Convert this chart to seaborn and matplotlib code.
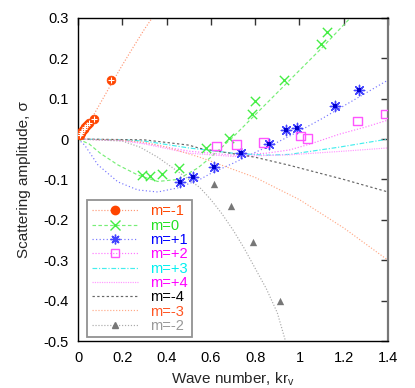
import matplotlib
matplotlib.use("Agg")
import matplotlib.pyplot as plt
from matplotlib.lines import Line2D
import numpy as np
import pandas as pd
import seaborn as sns

# curves
M_NEG1_X = [0.0, 0.05, 0.1, 0.15, 0.2, 0.25, 0.3, 0.335]
M_NEG1_Y = [0.0, 0.04, 0.088, 0.136, 0.183, 0.228, 0.272, 0.3]

M0_X = [0.0, 0.05, 0.1, 0.18, 0.27, 0.36, 0.45, 0.54, 0.6, 0.7, 0.8, 0.9, 1.0, 1.1, 1.23]
M0_Y = [0.0, -0.012, -0.035, -0.064, -0.089, -0.105, -0.1, -0.072, -0.045, 0.005, 0.06, 0.115, 0.17, 0.225, 0.3]

M1_X = [0.0, 0.03, 0.09, 0.18, 0.27, 0.36, 0.45, 0.55, 0.6, 0.7, 0.8, 0.9, 1.0, 1.1, 1.2, 1.3, 1.4]
M1_Y = [0.0, -0.015, -0.064, -0.106, -0.126, -0.131, -0.121, -0.1, -0.085, -0.06, -0.033, -0.008, 0.02, 0.05, 0.082, 0.114, 0.146]

M2_X = [0.0, 0.2, 0.3, 0.5, 0.7, 0.85, 0.955, 1.05, 1.18, 1.3, 1.4]
M2_Y = [0.0, -0.003, -0.01, -0.03, -0.04, -0.035, -0.027, -0.012, 0.012, 0.03, 0.047]

M3_X = [0.0, 0.2, 0.3, 0.5, 0.7, 0.85, 0.955, 1.18, 1.4]
M3_Y = [0.0, -0.002, -0.005, -0.022, -0.035, -0.04, -0.038, -0.02, 0.0]

M4_X = [0.0, 0.2, 0.3, 0.5, 0.7, 0.955, 1.2, 1.4]
M4_Y = [0.0, -0.004, -0.012, -0.035, -0.043, -0.039, -0.03, -0.022]

M_NEG4_X = [0.0, 0.3, 0.5, 0.55, 0.8, 0.955, 1.2, 1.4]
M_NEG4_Y = [0.0, -0.002, -0.015, -0.023, -0.045, -0.065, -0.1, -0.131]

M_NEG3_X = [0.0, 0.2, 0.3, 0.4, 0.55, 0.8, 1.0, 1.2, 1.4]
M_NEG3_Y = [0.0, -0.003, -0.008, -0.02, -0.045, -0.095, -0.15, -0.22, -0.3]

M_NEG2_X = [0.0, 0.2, 0.28, 0.36, 0.45, 0.55, 0.6, 0.65, 0.7, 0.75, 0.8, 0.85, 0.9, 0.937]
M_NEG2_Y = [0.0, -0.005, -0.02, -0.045, -0.08, -0.12, -0.15, -0.185, -0.225, -0.27, -0.32, -0.37, -0.43, -0.5]

# measured points
P_NEG1_X = [0.01, 0.015, 0.02, 0.025, 0.03, 0.04, 0.05, 0.072, 0.15]
P_NEG1_Y = [0.01, 0.015, 0.02, 0.025, 0.03, 0.035, 0.04, 0.05, 0.145]

P0_X = [0.288, 0.324, 0.378, 0.455, 0.577, 0.68, 0.784, 0.80, 0.928, 1.099, 1.126]
P0_Y = [-0.089, -0.092, -0.087, -0.072, -0.022, 0.003, 0.062, 0.094, 0.146, 0.235, 0.265]

P1_X = [0.459, 0.52, 0.613, 0.738, 0.862, 0.937, 0.988, 1.161, 1.27]
P1_Y = [-0.106, -0.094, -0.07, -0.035, -0.012, 0.022, 0.027, 0.082, 0.121]

P2_X = [0.626, 0.716, 0.838, 1.004, 1.036, 1.261, 1.387]
P2_Y = [-0.017, -0.013, -0.008, 0.008, 0.002, 0.045, 0.062]

P_NEG2_X = [0.613, 0.689, 0.788, 0.913]
P_NEG2_Y = [-0.112, -0.166, -0.255, -0.401]

LABELS = ["m=-1", "m=0", "m=+1", "m=+2", "m=+3", "m=+4", "m=-4", "m=-3", "m=-2"]
TEXT_COLORS = ["#ff4500", "#22e022", "#0000ff", "#ff00ff", "#00f0f0", "#ff00ff", "#000000", "#ff5522", "#999999"]
LINE_COLORS = ["#ff9977", "#77ee77", "#7777ff", "#ff77ff", "#44eeee", "#ff99ff", "#666666", "#ffaa88", "#aaaaaa"]
LINE_STYLES = [(0, (1, 1.5)), (0, (3, 2)), (0, (1, 2)), (0, (1, 1.5)), (0, (4, 1.5, 1, 1.5)),
               (0, (1, 1)), (0, (2, 2)), (0, (1, 1.5)), (0, (1, 1.5))]

XTICKS = [0, 0.2, 0.4, 0.6, 0.8, 1.0, 1.2, 1.4]
XTICK_LABELS = ["0", "0.2", "0.4", "0.6", "0.8", "1", "1.2", "1.4"]
YTICKS = [0.3, 0.2, 0.1, 0.0, -0.1, -0.2, -0.3, -0.4, -0.5]
YTICK_LABELS = ["0.3", "0.2", "0.1", "0", "-0.1", "-0.2", "-0.3", "-0.4", "-0.5"]

sns.set_theme(style="white")
plt.rcParams["font.family"] = ["Liberation Sans", "DejaVu Sans"]
plt.rcParams["mathtext.fontset"] = "custom"
plt.rcParams["mathtext.rm"] = "Liberation Sans"
plt.rcParams["axes.unicode_minus"] = False

fig = plt.figure(figsize=(4.15, 3.88), dpi=100)
ax = fig.add_axes([0.188, 0.121, 0.747, 0.833])

curves = [
    (M_NEG1_X, M_NEG1_Y), (M0_X, M0_Y), (M1_X, M1_Y), (M2_X, M2_Y), (M3_X, M3_Y),
    (M4_X, M4_Y), (M_NEG4_X, M_NEG4_Y), (M_NEG3_X, M_NEG3_Y), (M_NEG2_X, M_NEG2_Y),
]
for (cx, cy), col, ls in zip(curves, LINE_COLORS, LINE_STYLES):
    sns.lineplot(x=cx, y=cy, ax=ax, color=col, linestyle=ls, linewidth=0.85, sort=False, estimator=None)

# markers
sns.scatterplot(x=P_NEG1_X, y=P_NEG1_Y, ax=ax, marker="o", s=40, color="#ff4500",
                edgecolor="#ff4500", linewidth=0.5, zorder=5)
sns.scatterplot(x=P_NEG1_X, y=P_NEG1_Y, ax=ax, marker="+", s=18, color="white", linewidth=0.8, zorder=6)
sns.scatterplot(x=P0_X, y=P0_Y, ax=ax, marker="x", s=45, color="#44ee44", linewidth=1.0, zorder=5)
sns.scatterplot(x=P1_X, y=P1_Y, ax=ax, marker=(8, 2, 0), s=55, color="#4444ff", linewidth=1.0, zorder=5)
sns.scatterplot(x=P1_X, y=P1_Y, ax=ax, marker="s", s=5, color="#0000cc", linewidth=0, zorder=6)
sns.scatterplot(x=P2_X, y=P2_Y, ax=ax, marker="s", s=38, facecolor="none", edgecolor="#ff55ff",
                linewidth=1.0, zorder=5)
sns.scatterplot(x=P_NEG2_X, y=P_NEG2_Y, ax=ax, marker="^", s=28, color="#777777", linewidth=0, zorder=5)

ax.set_xlim(0, 1.4)
ax.set_ylim(-0.5, 0.3)
ax.set_xticks(XTICKS)
ax.set_xticklabels(XTICK_LABELS)
ax.set_yticks(YTICKS)
ax.set_yticklabels(YTICK_LABELS)
ax.tick_params(direction="in", top=True, right=True, length=5, width=1, labelsize=10.5,
               colors="#333333", labelcolor="black", pad=7)
for side in ["left", "bottom", "top"]:
    ax.spines[side].set_color("black")
    ax.spines[side].set_linewidth(1.0)
ax.spines["right"].set_color("#777777")
ax.spines["right"].set_linewidth(1.6)
ax.set_xlabel("Wave number, kr$_\\mathrm{v}$", fontsize=11, labelpad=4)
ax.set_ylabel("Scattering amplitude, σ", fontsize=11, labelpad=9)

# legend handles
markers = [
    dict(marker="o", markersize=6, markerfacecolor="#ff4500", markeredgecolor="#ff4500"),
    dict(marker="x", markersize=7, markeredgecolor="#44ee44"),
    dict(marker=(8, 2, 0), markersize=7, markeredgecolor="#4444ff"),
    dict(marker="s", markersize=6, markerfacecolor="none", markeredgecolor="#ff55ff"),
    {}, {}, {},
    {},
    dict(marker="^", markersize=5, markerfacecolor="#777777", markeredgecolor="#777777"),
]
handles = []
for col, ls, mk in zip(LINE_COLORS, LINE_STYLES, markers):
    handles.append(Line2D([0], [0], color=col, linestyle=ls, linewidth=0.85, **mk))

leg = ax.legend(handles, LABELS, loc="lower left", bbox_to_anchor=(0.03, 0.012), frameon=True,
                fancybox=False, fontsize=10.5, handlelength=3.2, handletextpad=0.8,
                labelspacing=0.02, borderpad=0.3, borderaxespad=0.0)
leg.get_frame().set_edgecolor("#777777")
leg.get_frame().set_linewidth(1.3)
for txt, col in zip(leg.get_texts(), TEXT_COLORS):
    txt.set_color(col)

fig.savefig("out.png", dpi=100)
